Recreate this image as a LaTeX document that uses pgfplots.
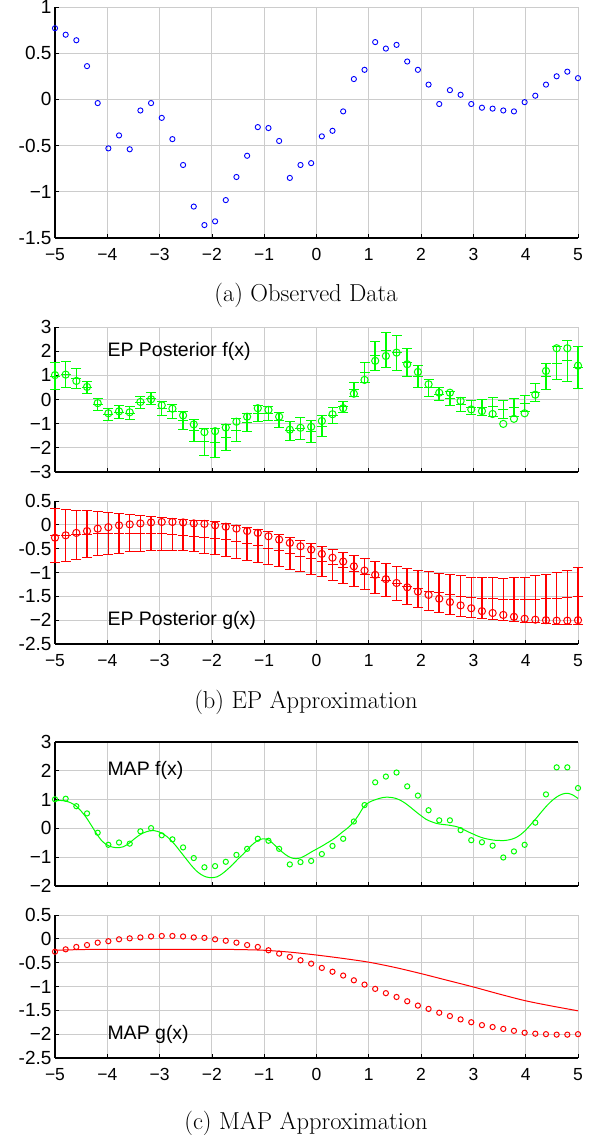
\documentclass[border=0pt]{standalone}
\usepackage{fontspec}
\usepackage{pgfplots}
\usepackage{pgfplotstable}
\pgfplotsset{compat=1.18}
\newfontfamily\hv{Liberation Sans}

% observed data
\pgfplotstableread{
x y
-5.0000 0.77
-4.7959 0.70
-4.5918 0.64
-4.3878 0.36
-4.1837 -0.04
-3.9796 -0.53
-3.7755 -0.39
-3.5714 -0.54
-3.3673 -0.12
-3.1633 -0.04
-2.9592 -0.20
-2.7551 -0.43
-2.5510 -0.71
-2.3469 -1.16
-2.1429 -1.36
-1.9388 -1.32
-1.7347 -1.09
-1.5306 -0.84
-1.3265 -0.61
-1.1224 -0.30
-0.9184 -0.31
-0.7143 -0.45
-0.5102 -0.85
-0.3061 -0.71
-0.1020 -0.69
0.1020 -0.40
0.3061 -0.34
0.5102 -0.13
0.7143 0.22
0.9184 0.32
1.1224 0.62
1.3265 0.55
1.5306 0.59
1.7347 0.41
1.9388 0.32
2.1429 0.16
2.3469 -0.05
2.5510 0.10
2.7551 0.05
2.9592 -0.05
3.1633 -0.09
3.3673 -0.10
3.5714 -0.12
3.7755 -0.13
3.9796 -0.03
4.1837 0.04
4.3878 0.16
4.5918 0.25
4.7959 0.30
5.0000 0.23
}\obs

% circles of f and g
\pgfplotstableread{
x f g
-5.0000 1.01 -0.27
-4.7959 1.03 -0.22
-4.5918 0.77 -0.17
-4.3878 0.52 -0.13
-4.1837 -0.15 -0.08
-3.9796 -0.57 -0.05
-3.7755 -0.49 -0.01
-3.5714 -0.53 0.01
-3.3673 -0.10 0.03
-3.1633 0.01 0.05
-2.9592 -0.24 0.06
-2.7551 -0.38 0.06
-2.5510 -0.66 0.05
-2.3469 -1.03 0.03
-2.1429 -1.35 0.02
-1.9388 -1.31 -0.01
-1.7347 -1.16 -0.04
-1.5306 -0.92 -0.08
-1.3265 -0.71 -0.13
-1.1224 -0.36 -0.17
-0.9184 -0.43 -0.24
-0.7143 -0.71 -0.31
-0.5102 -1.25 -0.38
-0.3061 -1.17 -0.45
-0.1020 -1.13 -0.52
0.1020 -0.89 -0.61
0.3061 -0.61 -0.69
0.5102 -0.36 -0.77
0.7143 0.24 -0.87
0.9184 0.81 -0.96
1.1224 1.60 -1.05
1.3265 1.80 -1.14
1.5306 1.94 -1.22
1.7347 1.46 -1.31
1.9388 1.14 -1.40
2.1429 0.63 -1.47
2.3469 0.28 -1.55
2.5510 0.28 -1.62
2.7551 -0.06 -1.69
2.9592 -0.41 -1.75
3.1633 -0.48 -1.81
3.3673 -0.60 -1.85
3.5714 -1.01 -1.89
3.7755 -0.80 -1.93
3.9796 -0.57 -1.97
4.1837 0.20 -1.99
4.3878 1.18 -2.00
4.5918 2.12 -2.01
4.7959 2.12 -2.01
5.0000 1.40 -2.00
}\truth

% EP posterior f: mean, lower, upper, bar length
\pgfplotstableread{
x m lo hi d
-5.0000 0.97 0.42 1.52 1.10
-4.7959 1.02 0.48 1.56 1.08
-4.5918 0.88 0.46 1.30 0.84
-4.3878 0.49 0.25 0.73 0.48
-4.1837 -0.20 -0.44 0.04 0.48
-3.9796 -0.62 -0.88 -0.36 0.52
-3.7755 -0.52 -0.79 -0.25 0.54
-3.5714 -0.57 -0.83 -0.31 0.52
-3.3673 -0.14 -0.39 0.11 0.50
-3.1633 0.03 -0.22 0.28 0.50
-2.9592 -0.36 -0.65 -0.07 0.58
-2.7551 -0.50 -0.80 -0.20 0.60
-2.5510 -0.87 -1.25 -0.49 0.76
-2.3469 -1.28 -1.73 -0.83 0.90
-2.1429 -1.75 -2.32 -1.18 1.14
-1.9388 -1.78 -2.38 -1.18 1.20
-1.7347 -1.58 -2.12 -1.04 1.08
-1.5306 -1.27 -1.74 -0.80 0.94
-1.3265 -0.95 -1.32 -0.58 0.74
-1.1224 -0.58 -0.92 -0.24 0.68
-0.9184 -0.57 -0.87 -0.27 0.60
-0.7143 -0.85 -1.16 -0.54 0.62
-0.5102 -1.30 -1.70 -0.90 0.80
-0.3061 -1.21 -1.66 -0.76 0.90
-0.1020 -1.32 -1.77 -0.87 0.90
0.1020 -1.10 -1.53 -0.67 0.86
0.3061 -0.68 -1.01 -0.35 0.66
0.5102 -0.30 -0.53 -0.07 0.46
0.7143 0.42 0.14 0.70 0.56
0.9184 1.12 0.69 1.55 0.86
1.1224 1.80 1.20 2.40 1.20
1.3265 2.04 1.31 2.77 1.46
1.5306 1.94 1.22 2.66 1.44
1.7347 1.54 0.97 2.11 1.14
1.9388 0.96 0.51 1.41 0.90
2.1429 0.49 0.14 0.84 0.70
2.3469 0.22 -0.04 0.48 0.52
2.5510 0.05 -0.25 0.35 0.60
2.7551 -0.20 -0.50 0.10 0.60
2.9592 -0.33 -0.62 -0.04 0.58
3.1633 -0.33 -0.66 0.00 0.66
3.3673 -0.31 -0.69 0.07 0.76
3.5714 -0.40 -0.77 -0.03 0.74
3.7755 -0.33 -0.71 0.05 0.76
3.9796 -0.17 -0.51 0.17 0.68
4.1837 0.30 -0.08 0.68 0.76
4.3878 0.96 0.41 1.51 1.10
4.5918 1.51 0.82 2.20 1.38
4.7959 1.60 0.75 2.45 1.70
5.0000 1.33 0.47 2.19 1.72
}\epf

% EP posterior g: mean, lower, upper, bar length
\pgfplotstableread{
x m lo hi d
-5.0000 -0.230 -0.800 0.340 1.140
-4.7959 -0.218 -0.759 0.323 1.082
-4.5918 -0.205 -0.718 0.308 1.026
-4.3878 -0.196 -0.683 0.291 0.974
-4.1837 -0.187 -0.649 0.275 0.924
-3.9796 -0.180 -0.618 0.258 0.876
-3.7755 -0.180 -0.593 0.233 0.826
-3.5714 -0.180 -0.569 0.209 0.778
-3.3673 -0.183 -0.552 0.186 0.738
-3.1633 -0.187 -0.540 0.166 0.706
-2.9592 -0.192 -0.531 0.147 0.678
-2.7551 -0.205 -0.540 0.130 0.670
-2.5510 -0.217 -0.548 0.114 0.662
-2.3469 -0.235 -0.568 0.098 0.666
-2.1429 -0.256 -0.593 0.081 0.674
-1.9388 -0.281 -0.622 0.060 0.682
-1.7347 -0.318 -0.663 0.027 0.690
-1.5306 -0.354 -0.703 -0.005 0.698
-1.3265 -0.398 -0.748 -0.048 0.700
-1.1224 -0.443 -0.793 -0.093 0.700
-0.9184 -0.491 -0.838 -0.144 0.694
-0.7143 -0.544 -0.883 -0.205 0.678
-0.5102 -0.597 -0.927 -0.267 0.660
-0.3061 -0.654 -0.980 -0.328 0.652
-0.1020 -0.711 -1.033 -0.389 0.644
0.1020 -0.773 -1.093 -0.453 0.640
0.3061 -0.838 -1.158 -0.518 0.640
0.5102 -0.903 -1.223 -0.583 0.640
0.7143 -0.969 -1.293 -0.645 0.648
0.9184 -1.034 -1.362 -0.706 0.656
1.1224 -1.099 -1.436 -0.762 0.674
1.3265 -1.164 -1.514 -0.814 0.700
1.5306 -1.229 -1.591 -0.867 0.724
1.7347 -1.286 -1.665 -0.907 0.758
1.9388 -1.343 -1.738 -0.948 0.790
2.1429 -1.389 -1.795 -0.983 0.812
2.3469 -1.429 -1.843 -1.015 0.828
2.5510 -1.467 -1.888 -1.046 0.842
2.7551 -1.496 -1.921 -1.071 0.850
2.9592 -1.524 -1.953 -1.095 0.858
3.1633 -1.540 -1.973 -1.107 0.866
3.3673 -1.552 -1.989 -1.115 0.874
3.5714 -1.561 -2.005 -1.117 0.888
3.7755 -1.566 -2.023 -1.109 0.914
3.9796 -1.570 -2.039 -1.101 0.938
4.1837 -1.563 -2.055 -1.071 0.984
4.3878 -1.555 -2.072 -1.038 1.034
4.5918 -1.541 -2.084 -0.998 1.086
4.7959 -1.520 -2.091 -0.949 1.142
5.0000 -1.500 -2.100 -0.900 1.200
}\epg

% MAP f
\pgfplotstableread{
x y
-5.0 0.96
-4.9 0.97
-4.8 0.95
-4.7 0.89
-4.6 0.78
-4.5 0.60
-4.4 0.37
-4.3 0.09
-4.2 -0.20
-4.1 -0.44
-4.0 -0.58
-3.9 -0.65
-3.8 -0.67
-3.7 -0.64
-3.6 -0.54
-3.5 -0.39
-3.4 -0.25
-3.3 -0.15
-3.2 -0.09
-3.1 -0.08
-3.0 -0.13
-2.9 -0.23
-2.8 -0.38
-2.7 -0.58
-2.6 -0.81
-2.5 -1.04
-2.4 -1.27
-2.3 -1.47
-2.2 -1.61
-2.1 -1.69
-2.0 -1.71
-1.9 -1.68
-1.8 -1.57
-1.7 -1.42
-1.6 -1.25
-1.5 -1.06
-1.4 -0.89
-1.3 -0.69
-1.2 -0.52
-1.1 -0.40
-1.0 -0.36
-0.9 -0.42
-0.8 -0.58
-0.7 -0.75
-0.6 -0.90
-0.5 -1.01
-0.4 -1.05
-0.3 -1.02
-0.2 -0.93
-0.1 -0.82
0.0 -0.72
0.1 -0.62
0.2 -0.51
0.3 -0.40
0.4 -0.27
0.5 -0.12
0.6 0.02
0.7 0.20
0.8 0.45
0.9 0.74
1.0 0.90
1.1 0.98
1.2 1.04
1.3 1.08
1.4 1.08
1.5 1.05
1.6 0.98
1.7 0.87
1.8 0.73
1.9 0.58
2.0 0.44
2.1 0.31
2.2 0.23
2.3 0.17
2.4 0.14
2.5 0.12
2.6 0.09
2.7 0.05
2.8 -0.03
2.9 -0.12
3.0 -0.20
3.1 -0.28
3.2 -0.34
3.3 -0.38
3.4 -0.41
3.5 -0.42
3.6 -0.42
3.7 -0.39
3.8 -0.33
3.9 -0.22
4.0 -0.06
4.1 0.14
4.2 0.35
4.3 0.57
4.4 0.78
4.5 0.96
4.6 1.10
4.7 1.19
4.8 1.22
4.9 1.16
5.0 1.04
}\mapf

% MAP g
\pgfplotstableread{
x y
-5.0 -0.240
-4.5 -0.225
-4.0 -0.220
-3.5 -0.220
-3.0 -0.220
-2.5 -0.220
-2.0 -0.220
-1.5 -0.225
-1.0 -0.240
-0.5 -0.280
0.0 -0.340
0.5 -0.410
1.0 -0.490
1.5 -0.600
2.0 -0.730
2.5 -0.870
3.0 -1.010
3.5 -1.160
4.0 -1.300
4.5 -1.410
5.0 -1.510
}\mapg

\pgfplotsset{
  panel/.style={
    scale only axis, width=523pt,
    xmin=-5, xmax=5, xtick={-5,...,5},
    axis x line*=bottom, axis y line*=left,
    axis line style={line width=1.4pt, black, -},
    grid=major, grid style={black!20, line width=0.9pt},
    tick align=inside, major tick length=4pt,
    tick style={black, line width=0.8pt},
    yticklabel style={font=\hv\fontsize{19}{19}\selectfont},
    xticklabel style={font=\hv\fontsize{17.5}{18}\selectfont, yshift=-7pt},
    clip=false,
  },
  xlab/.style={xticklabels={−5,−4,−3,−2,−1,0,1,2,3,4,5}},
  nox/.style={xticklabels={}},
  dash/.style={#1, only marks, mark=-, mark size=5pt, mark options={line width=1pt}},
  bar/.style={draw=#1, color=#1, line width=1.5pt, line cap=butt, -,
    quiver={u=0, v=\thisrow{d}, every arrow/.append style={draw=#1, line width=1.5pt}}},
}
\newcommand{\lbl}{\hv\fontsize{19.5}{20}\selectfont}
\newcommand{\capfont}{\fontsize{24.5}{28}\selectfont}

\begin{document}
\begin{tikzpicture}
\useasboundingbox (0,0) rectangle (592pt,1135pt);

% (a)
\begin{axis}[panel, xlab, at={(55pt,897pt)}, anchor=south west, height=231pt,
  ymin=-1.5, ymax=1, ytick={-1.5,-1,-0.5,0,0.5,1},
  yticklabels={-1.5,−1,-0.5,0,0.5,1}]
\addplot[blue, only marks, mark=o, mark size=2.6pt, mark options={line width=0.9pt}] table[x=x,y=y] {\obs};
\end{axis}
\node[font=\capfont] at (306pt,840pt) {(a) Observed Data};

% (b) top
\begin{axis}[panel, nox, at={(55pt,663pt)}, anchor=south west, height=145pt,
  ymin=-3, ymax=3, ytick={-3,...,3},
  yticklabels={−3,−2,−1,0,1,2,3}]
\addplot[bar=green] table[x=x, y=lo] {\epf};
\addplot[dash=green] table[x=x, y=lo] {\epf};
\addplot[dash=green] table[x=x, y=hi] {\epf};
\addplot[dash=green] table[x=x, y=m] {\epf};
\addplot[green, only marks, mark=o, mark size=3.6pt, mark options={line width=1pt}] table[x=x,y=f] {\truth};
\node[anchor=west, inner sep=0pt, font=\lbl] at (axis cs:-4,2) {EP Posterior f(x)};
\end{axis}

% (b) bottom
\begin{axis}[panel, xlab, at={(55pt,491pt)}, anchor=south west, height=143pt,
  ymin=-2.5, ymax=0.5, ytick={-2.5,-2,-1.5,-1,-0.5,0,0.5},
  yticklabels={-2.5,−2,-1.5,−1,-0.5,0,0.5}]
\addplot[bar=red] table[x=x, y=lo] {\epg};
\addplot[dash=red] table[x=x, y=lo] {\epg};
\addplot[dash=red] table[x=x, y=hi] {\epg};
\addplot[dash=red] table[x=x, y=m] {\epg};
\addplot[red, only marks, mark=o, mark size=3.6pt, mark options={line width=1pt}] table[x=x,y=g] {\truth};
\node[anchor=west, inner sep=0pt, font=\lbl] at (axis cs:-4,-2) {EP Posterior g(x)};
\end{axis}
\node[font=\capfont] at (306pt,432.5pt) {(b) EP Approximation};

% (c) top
\begin{axis}[panel, nox, at={(55pt,249pt)}, anchor=south west, height=144pt,
  ymin=-2, ymax=3, ytick={-2,...,3},
  yticklabels={−2,−1,0,1,2,3}]
\addplot[green, line width=1pt, smooth] table[x=x,y=y] {\mapf};
\addplot[green, only marks, mark=o, mark size=2.6pt, mark options={line width=1pt}] table[x=x,y=f] {\truth};
\node[anchor=west, inner sep=0pt, font=\lbl] at (axis cs:-4,2) {MAP f(x)};
\draw[black, line width=1.4pt] (rel axis cs:0,1) -- (rel axis cs:1,1);
\end{axis}

% (c) bottom
\begin{axis}[panel, xlab, at={(55pt,77pt)}, anchor=south west, height=143pt,
  ymin=-2.5, ymax=0.5, ytick={-2.5,-2,-1.5,-1,-0.5,0,0.5},
  yticklabels={-2.5,−2,-1.5,−1,-0.5,0,0.5}]
\addplot[red, line width=1pt, smooth] table[x=x,y=y] {\mapg};
\addplot[red, only marks, mark=o, mark size=2.6pt, mark options={line width=1pt}] table[x=x,y=g] {\truth};
\node[anchor=west, inner sep=0pt, font=\lbl] at (axis cs:-4,-2) {MAP g(x)};
\end{axis}
\node[font=\capfont] at (306pt,11.5pt) {(c) MAP Approximation};
\end{tikzpicture}
\end{document}
